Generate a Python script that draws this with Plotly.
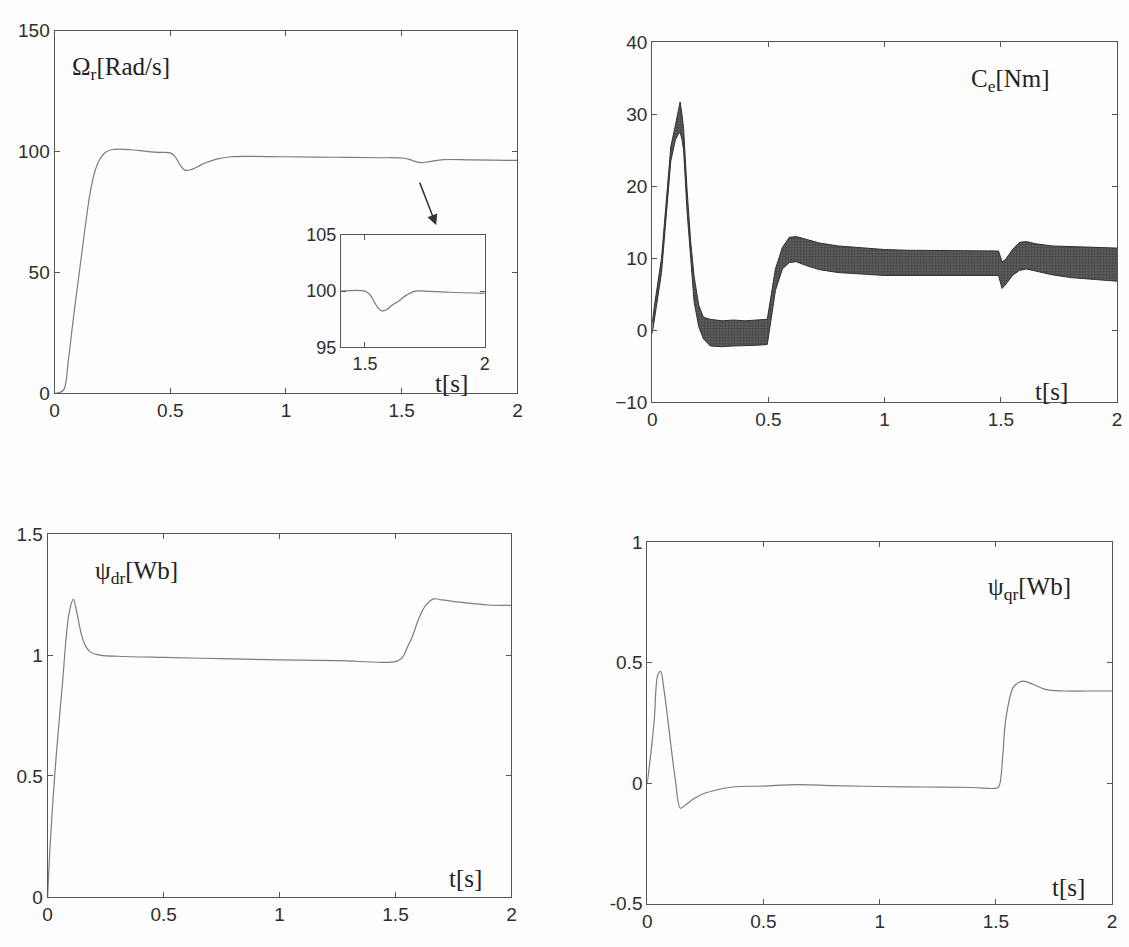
import plotly.graph_objects as go

# ---------------- data ----------------
# rotor speed Omega_r [rad/s]
t_speed = [0, 0.02, 0.04, 0.06, 0.08, 0.107, 0.13, 0.153, 0.175, 0.2, 0.225, 0.25, 0.28,
           0.33, 0.40, 0.45, 0.50, 0.52, 0.545, 0.566, 0.59, 0.62, 0.65, 0.70, 0.76, 0.85,
           1.0, 1.2, 1.4, 1.5, 1.53, 1.56, 1.585, 1.62, 1.68, 1.8, 2.0]
speed = [0, 0.3, 1.5, 14, 30, 50, 67, 82.5, 92, 97.5, 100, 100.8, 101,
         100.7, 100, 99.6, 99.4, 98, 94, 92.2, 92.5, 93.8, 95.2, 96.8, 97.8, 98,
         97.8, 97.6, 97.4, 97.3, 96.8, 95.8, 95.4, 95.8, 96.6, 96.5, 96.3]

# zoomed speed detail around the load step
t_zoom = [1.4, 1.5, 1.52, 1.54, 1.555, 1.57, 1.59, 1.61, 1.64, 1.67, 1.71, 1.75, 1.85, 2.0]
speed_zoom = [100, 100, 99.7, 99.0, 98.5, 98.25, 98.35, 98.7, 99.1, 99.6, 100, 100, 99.9, 99.8]

# electromagnetic torque C_e [Nm]: ripple band (upper / lower envelope)
t_torque = [0, 0.01, 0.04, 0.08, 0.10, 0.112, 0.12, 0.128, 0.135, 0.15, 0.165, 0.18, 0.20,
            0.22, 0.25, 0.30, 0.35, 0.40, 0.45, 0.495, 0.51, 0.53, 0.56, 0.59, 0.62, 0.66,
            0.72, 0.80, 0.90, 1.00, 1.10, 1.20, 1.30, 1.40, 1.49, 1.505, 1.52, 1.55, 1.58,
            1.61, 1.65, 1.72, 1.80, 1.90, 2.00]
torque_hi = [1.0, 3.5, 10, 25.5, 28.5, 30.5, 31.7, 30, 28, 19.5, 12.5, 7.5, 3.5,
             1.8, 1.5, 1.3, 1.4, 1.3, 1.4, 1.5, 4.5, 8.5, 11.5, 12.9, 13.0, 12.6,
             12.1, 11.7, 11.4, 11.2, 11.1, 11.1, 11.0, 11.0, 11.0, 9.5, 9.8, 11.2, 12.2,
             12.3, 12.0, 11.7, 11.6, 11.5, 11.4]
torque_lo = [-0.5, 1.5, 8, 23.5, 26.5, 27.2, 27.5, 26.5, 25, 16.5, 9.5, 4, 0.5,
             -1.2, -2.2, -2.3, -2.2, -2.2, -2.1, -2.0, 1.0, 5.5, 8.5, 9.4, 9.5, 9.0,
             8.4, 8.0, 7.8, 7.6, 7.6, 7.6, 7.6, 7.6, 7.6, 5.8, 6.3, 7.6, 8.3,
             8.5, 8.2, 7.7, 7.3, 7.0, 6.8]

# rotor flux, d axis [Wb]
t_psid = [0, 0.009, 0.032, 0.062, 0.093, 0.111, 0.125, 0.147, 0.165, 0.185, 0.21, 0.23,
          0.3, 0.5, 0.75, 1.0, 1.25, 1.505, 1.53, 1.55, 1.574, 1.6, 1.63, 1.665, 1.7,
          1.8, 1.9, 2.0]
psi_d = [0, 0.18, 0.52, 0.86, 1.175, 1.23, 1.18, 1.08, 1.035, 1.012, 1.003, 0.999,
         0.995, 0.99, 0.985, 0.98, 0.977, 0.974, 0.99, 1.03, 1.08, 1.15, 1.205, 1.232, 1.228,
         1.216, 1.207, 1.205]

# rotor flux, q axis [Wb]
t_psiq = [0, 0.015, 0.03, 0.046, 0.058, 0.07, 0.085, 0.1, 0.12, 0.143, 0.165, 0.2, 0.244,
          0.3, 0.368, 0.5, 0.65, 0.8, 1.0, 1.2, 1.4, 1.505, 1.515, 1.53, 1.542, 1.574, 1.6,
          1.62, 1.66, 1.713, 1.79, 1.9, 2.0]
psi_q = [0, 0.12, 0.26, 0.45, 0.463, 0.40, 0.29, 0.17, 0.02, -0.104, -0.09, -0.065, -0.043,
         -0.028, -0.016, -0.012, -0.006, -0.01, -0.014, -0.016, -0.018, -0.02, -0.01, 0.12,
         0.26, 0.396, 0.418, 0.423, 0.41, 0.389, 0.382, 0.382, 0.382]

time_ticks = [0, 0.5, 1, 1.5, 2]
time_labels = ["0", "0.5", "1", "1.5", "2"]

# ---------------- layout helpers ----------------
W, H = 1129, 947


def fx(p):
    return p / W


def fy(p):
    return 1 - p / H


AX_COLOR = "#555555"
CURVE = "#7c7c7c"
TICK_FONT = dict(family="Liberation Sans, Arial, sans-serif", size=19, color="#2e2e2e")
LABEL_FONT = dict(family="Liberation Serif, Times New Roman, serif", size=25, color="#222")


def axis(domain, rng, tickvals, ticktext=None, font=TICK_FONT):
    d = dict(domain=domain, range=rng, tickvals=tickvals, showgrid=False, zeroline=False,
             showline=True, linecolor=AX_COLOR, linewidth=1, mirror="ticks",
             ticks="inside", ticklen=5, tickcolor=AX_COLOR, tickwidth=1,
             tickfont=font, fixedrange=True)
    if ticktext is not None:
        d["ticktext"] = ticktext
    return d


fig = go.Figure()

# speed
fig.add_trace(go.Scatter(x=t_speed, y=speed, mode="lines", line=dict(color=CURVE, width=1.2),
                         line_shape="spline", xaxis="x", yaxis="y", showlegend=False))
# speed detail
fig.add_trace(go.Scatter(x=t_zoom, y=speed_zoom, mode="lines", line=dict(color=CURVE, width=1.2),
                         line_shape="spline", xaxis="x5", yaxis="y5", showlegend=False))
# torque band
fig.add_trace(go.Scatter(x=t_torque, y=torque_hi, mode="lines",
                         line=dict(color="#2f2f2f", width=1), xaxis="x2", yaxis="y2",
                         showlegend=False))
fig.add_trace(go.Scatter(x=t_torque, y=torque_lo, mode="lines",
                         line=dict(color="#2f2f2f", width=1), fill="tonexty",
                         fillcolor="#505050",
                         fillpattern=dict(shape=".", fgcolor="#161616", bgcolor="#6c6c6c",
                                          size=3, solidity=0.6),
                         xaxis="x2", yaxis="y2", showlegend=False))
# fluxes
fig.add_trace(go.Scatter(x=t_psid, y=psi_d, mode="lines", line=dict(color=CURVE, width=1.2),
                         line_shape="spline", xaxis="x3", yaxis="y3", showlegend=False))
fig.add_trace(go.Scatter(x=t_psiq, y=psi_q, mode="lines", line=dict(color=CURVE, width=1.2),
                         line_shape="spline", xaxis="x4", yaxis="y4", showlegend=False))

fig.update_layout(
    width=W, height=H,
    margin=dict(l=0, r=0, t=0, b=0),
    paper_bgcolor="#fdfdfd", plot_bgcolor="rgba(0,0,0,0)",
    xaxis=axis([fx(50), fx(517)], [0, 2], time_ticks, time_labels),
    yaxis=axis([fy(392), fy(21)], [0, 150], [0, 50, 100, 150]),
    xaxis2=axis([fx(653), fx(1122)], [0, 2], time_ticks, time_labels),
    yaxis2=axis([fy(401), fy(33)], [-10, 40], [-10, 0, 10, 20, 30, 40]),
    xaxis3=axis([fx(43), fx(511)], [0, 2], time_ticks, time_labels),
    yaxis3=axis([fy(907), fy(536)], [0, 1.5], [0, 0.5, 1, 1.5], ["0", "0.5", "1", "1.5"]),
    xaxis4=axis([fx(648), fx(1117)], [0, 2], time_ticks, time_labels),
    yaxis4=axis([fy(914), fy(544)], [-0.5, 1], [-0.5, 0, 0.5, 1], ["-0.5", "0", "0.5", "1"]),
    xaxis5=axis([fx(339), fx(484)], [1.4, 2], [1.5, 2], ["1.5", "2"],
                font=dict(TICK_FONT, size=18)),
    yaxis5=axis([fy(345), fy(230)], [95, 105], [95, 100, 105],
                font=dict(TICK_FONT, size=18)),
)
for i in ["", "2", "3", "4", "5"]:
    fig.layout["xaxis" + i].anchor = "y" + i
    fig.layout["yaxis" + i].anchor = "x" + i

labels = [
    ("Ω<sub>r</sub>[Rad/s]", 66, 60, "left"),
    ("C<sub>e</sub>[Nm]", 973, 72, "left"),
    ("ψ<sub>dr</sub>[Wb]", 89, 575, "left"),
    ("ψ<sub>qr</sub>[Wb]", 990, 592, "left"),
    ("t[s]", 450, 382, "center"),
    ("t[s]", 1056, 390, "center"),
    ("t[s]", 465, 888, "center"),
    ("t[s]", 1073, 897, "center"),
]
for text, x, y, anchor in labels:
    fig.add_annotation(text=text, x=fx(x), y=fy(y), xref="paper", yref="paper",
                       xanchor=anchor, yanchor="middle", showarrow=False, font=LABEL_FONT)

# arrow pointing to the zoomed region
fig.add_annotation(x=fx(435), y=fy(220), xref="paper", yref="paper", text="",
                   showarrow=True, ax=-17, ay=-44, arrowhead=2, arrowsize=1.4,
                   arrowwidth=1.5, arrowcolor="#333", standoff=0)

fig.write_html("out.html")
